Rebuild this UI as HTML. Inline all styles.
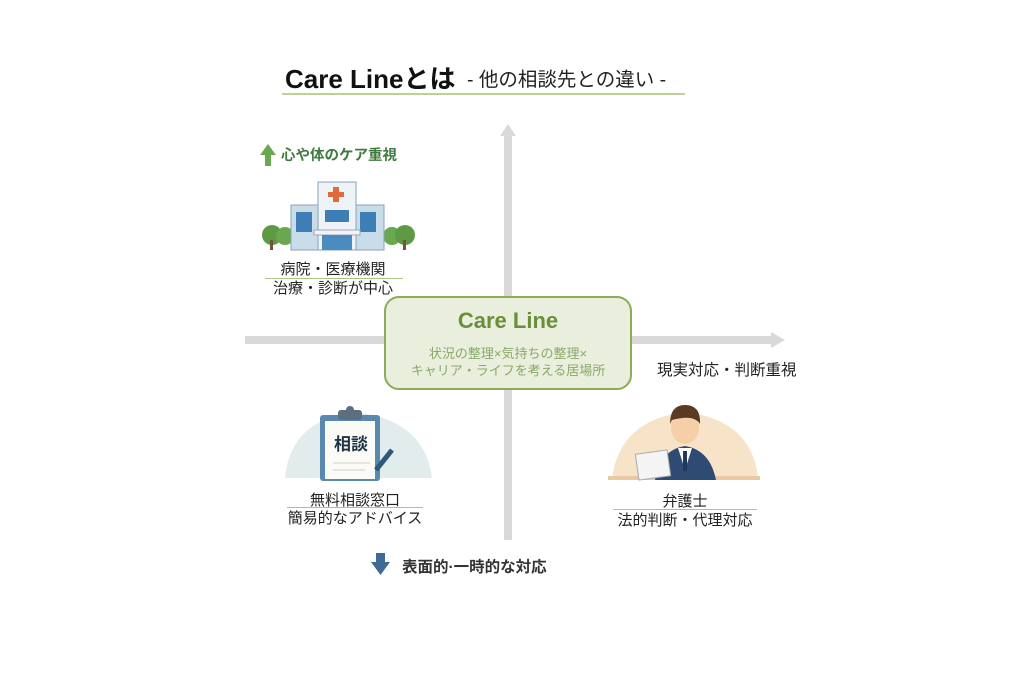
<!DOCTYPE html>
<html><head><meta charset="utf-8"><style>
html,body{margin:0;padding:0;background:#fff;}
body{width:1024px;height:683px;position:relative;overflow:hidden;font-family:"Liberation Sans","Noto Sans CJK JP",sans-serif;}
.t{position:absolute;white-space:nowrap;color:#222;}
</style></head><body>
<svg width="1024" height="683" style="position:absolute;left:0;top:0">
  <rect x="282" y="93" width="403" height="2" fill="#bcd193"/>
  <rect x="504" y="135" width="8" height="405" fill="#d9d9d9"/>
  <polygon points="500,136 508,124 516,136" fill="#d9d9d9"/>
  <rect x="245" y="336" width="528" height="8" fill="#d9d9d9"/>
  <polygon points="771,332 785,340 771,348" fill="#d9d9d9"/>
  <rect x="385" y="297" width="246" height="92" rx="14" fill="#e9efdc" stroke="#8aab5a" stroke-width="2"/>
  <polygon points="260,155 268,144 276,155 271,155 271,166 265,166 265,155" fill="#6aa84f"/>
  <g>
    <circle cx="272" cy="235" r="10" fill="#5e9a45"/><circle cx="285" cy="236" r="9" fill="#6aa84f"/>
    <circle cx="392" cy="236" r="9" fill="#6aa84f"/><circle cx="405" cy="235" r="10" fill="#5e9a45"/>
    <rect x="270" y="240" width="3" height="10" fill="#6b5a3a"/><rect x="403" y="240" width="3" height="10" fill="#6b5a3a"/>
    <rect x="291" y="205" width="93" height="45" fill="#c9dcea" stroke="#8aa3b6"/>
    <rect x="318" y="182" width="38" height="68" fill="#eef3f7" stroke="#8aa3b6"/>
    <rect x="333" y="187" width="6" height="15" fill="#e06a3a"/><rect x="328" y="192" width="16" height="5" fill="#e06a3a"/>
    <rect x="325" y="210" width="24" height="12" fill="#3d7fb5"/>
    <rect x="296" y="212" width="16" height="20" fill="#3d7fb5"/><rect x="360" y="212" width="16" height="20" fill="#3d7fb5"/>
    <rect x="314" y="230" width="46" height="5" fill="#f3f3f3" stroke="#9ab"/>
    <rect x="322" y="235" width="30" height="15" fill="#4a8bc0"/>
  </g>
  <g>
    <path d="M285 478 Q290 420 355 412 Q425 420 432 478 Z" fill="#e3ecec"/>
    <rect x="320" y="415" width="60" height="66" rx="3" fill="#5a89b0"/>
    <rect x="325" y="421" width="50" height="58" fill="#fbfbf6"/>
    <rect x="338" y="410" width="24" height="10" rx="3" fill="#5b6f80"/>
    <circle cx="350" cy="410" r="4" fill="#5b6f80"/>
    <line x1="333" y1="463" x2="370" y2="463" stroke="#ccc"/><line x1="333" y1="470" x2="365" y2="470" stroke="#ccc"/>
    <line x1="392" y1="450" x2="376" y2="470" stroke="#2e5a7a" stroke-width="5"/>
  </g>
  <g>
    <path d="M612 478 Q620 420 685 412 Q752 420 758 478 Z" fill="#f6e3c8"/>
    <rect x="608" y="476" width="152" height="4" fill="#e8c9a0"/>
    <path d="M655 480 Q660 450 685 446 Q710 450 716 480 Z" fill="#2f4a73"/>
    <path d="M678 448 L685 470 L692 448 Z" fill="#fff"/>
    <rect x="683" y="451" width="4" height="20" fill="#23395c"/>
    <ellipse cx="685" cy="428" rx="14" ry="16" fill="#f6cfa8"/>
    <path d="M670 424 Q670 405 685 405 Q701 405 700 424 Q694 414 672 420 Z" fill="#5a3a22"/>
    <rect x="637" y="452" width="32" height="26" fill="#f4f4f4" stroke="#aaa" transform="rotate(-8 653 465)"/>
  </g>
  <polygon points="376,553 385,553 385,562 390,562 380.5,575 371,562 376,562" fill="#3d6a96"/>
</svg>

<div class="t" style="left:285px;top:59px;font-size:26px;font-weight:bold;color:#111;">Care Lineとは</div>
<div class="t" style="left:467px;top:63px;font-size:19.5px;color:#222;">- 他の相談先との違い -</div>

<div class="t" style="left:281px;top:144px;font-size:14.5px;font-weight:bold;color:#3f7a3f;">心や体のケア重視</div>

<div class="t" style="left:258px;top:258px;width:150px;text-align:center;font-size:15px;">病院・医療機関</div>
<div style="position:absolute;left:265px;top:278px;width:138px;height:1px;background:#a9c585"></div>
<div class="t" style="left:258px;top:277px;width:150px;text-align:center;font-size:15px;">治療・診断が中心</div>

<div class="t" style="left:385px;top:308px;width:246px;text-align:center;font-size:22px;font-weight:bold;color:#6b8e3a;">Care Line</div>
<div class="t" style="left:385px;top:343px;width:246px;text-align:center;font-size:13px;color:#8aa86a;">状況の整理×気持ちの整理×</div>
<div class="t" style="left:385px;top:360px;width:246px;text-align:center;font-size:13px;color:#8aa86a;">キャリア・ライフを考える居場所</div>

<div class="t" style="left:657px;top:358px;font-size:15.5px;">現実対応・判断重視</div>

<div class="t" style="left:280px;top:489px;width:150px;text-align:center;font-size:15px;">無料相談窓口</div>
<div style="position:absolute;left:287px;top:507px;width:136px;height:1px;background:#a9c585"></div>
<div class="t" style="left:280px;top:507px;width:150px;text-align:center;font-size:15px;">簡易的なアドバイス</div>
<div class="t" style="left:334px;top:430px;font-size:17px;font-weight:bold;color:#1f3347;">相談</div>

<div class="t" style="left:607px;top:490px;width:156px;text-align:center;font-size:15px;">弁護士</div>
<div style="position:absolute;left:613px;top:509px;width:144px;height:1px;background:#a9c585"></div>
<div class="t" style="left:607px;top:509px;width:156px;text-align:center;font-size:15px;">法的判断・代理対応</div>

<div class="t" style="left:402px;top:555px;font-size:15.5px;font-weight:bold;color:#333;">表面的·一時的な対応</div>
</body></html>
